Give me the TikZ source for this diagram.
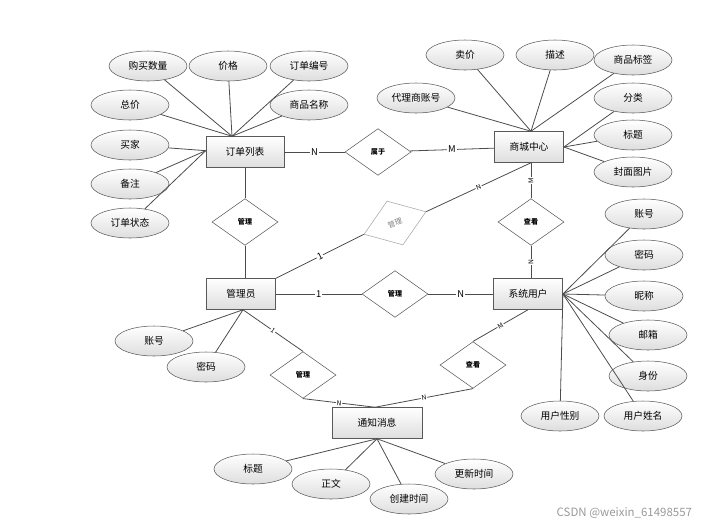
\documentclass[tikz,border=0pt]{standalone}
\usepackage{fontspec}
\setmainfont{Noto Sans CJK SC}
\usetikzlibrary{shapes.geometric}

\tikzset{
  entity/.style={draw=black!65, top color=white, bottom color=black!13,
    minimum width=52pt, minimum height=23.25pt, inner sep=1pt,
    font=\fontsize{7.3}{9}\selectfont},
  attr/.style={ellipse, draw=black!65, top color=white, bottom color=black!13,
    minimum width=58.5pt, minimum height=22.5pt, inner sep=0pt,
    font=\fontsize{7.3}{9}\selectfont},
  rel/.style={diamond, draw=black!65, fill=white,
    minimum width=49.5pt, minimum height=35pt, inner sep=0pt,
    font=\fontsize{5.3}{6}\selectfont\bfseries},
  card/.style={fill=white, inner sep=0.6pt, font=\fontsize{7}{8}\selectfont},
  smallcard/.style={card, font=\fontsize{5}{6}\selectfont},
  link/.style={draw=black!70, line width=0.6pt},
}

\begin{document}
\begin{tikzpicture}[x=0.75pt, y=-0.75pt]
  \useasboundingbox (0,0) rectangle (719,526);

  % entities
  \node[entity, minimum width=58.5pt] (order) at (245,152) {订单列表};
  \node[entity] (shop) at (529,147) {商城中心};
  \node[entity] (admin) at (241,294) {管理员};
  \node[entity] (user) at (528,294) {系统用户};
  \node[entity, minimum width=67.5pt] (notice) at (377,423) {通知消息};

  % relations
  \node[rel] (belong) at (378,152) {属于};
  \node[rel] (mgrorder) at (245,222) {管理};
  \node[rel, draw=black!35, text=black!50, rotate=20,
    font=\fontsize{5.5}{6}\selectfont] (mgrshop) at (395,223) {管理};
  \node[rel] (mgruser) at (395,294) {管理};
  \node[rel] (mgrnotice) at (303,375) {管理};
  \node[rel] (viewshop) at (531,222) {查看};
  \node[rel] (viewnotice) at (473,365) {查看};

  % attributes of the order list
  \node[attr] (buyqty) at (148,66) {购买数量};
  \node[attr] (price) at (228,66) {价格};
  \node[attr] (orderno) at (309,66) {订单编号};
  \node[attr] (total) at (130,105) {总价};
  \node[attr] (goodsname) at (309,105) {商品名称};
  \node[attr] (buyer) at (130,145) {买家};
  \node[attr] (remark) at (130,184) {备注};
  \node[attr] (orderstate) at (130,223) {订单状态};

  % attributes of the shop
  \node[attr] (sellprice) at (465,55) {卖价};
  \node[attr] (descr) at (555,55) {描述};
  \node[attr] (tag) at (633,60) {商品标签};
  \node[attr] (agentno) at (416,98) {代理商账号};
  \node[attr] (category) at (633,98) {分类};
  \node[attr] (title) at (633,135) {标题};
  \node[attr] (cover) at (633,172) {封面图片};

  % attributes of the user
  \node[attr] (uacct) at (644,214) {账号};
  \node[attr] (upwd) at (644,255) {密码};
  \node[attr] (unick) at (644,296) {昵称};
  \node[attr] (umail) at (648,335) {邮箱};
  \node[attr] (uident) at (648,376) {身份};
  \node[attr] (uname) at (643,416) {用户姓名};
  \node[attr] (usex) at (560,416) {用户性别};

  % attributes of the admin and the notice
  \node[attr] (aacct) at (154,341) {账号};
  \node[attr] (apwd) at (206,367) {密码};
  \node[attr] (ntitle) at (253,469) {标题};
  \node[attr] (nbody) at (331,484) {正文};
  \node[attr] (ncreate) at (409,499) {创建时间};
  \node[attr] (nupdate) at (474,474) {更新时间};

  % meeting points
  \coordinate (ordertop) at ([xshift=-9.75pt]order.north);
  \coordinate (orderleft) at ([yshift=1pt]order.west);
  \coordinate (shoptop) at ([xshift=1.5pt]shop.north);
  \coordinate (userright) at (user.east);
  \coordinate (adminbottom) at ([xshift=1.5pt]admin.south);
  \coordinate (noticetop) at ([xshift=-1.5pt]notice.north);
  \coordinate (noticebottom) at (notice.south);

  % attribute lines
  \foreach \a in {buyqty,price,orderno,total,goodsname}
    \draw[link] (\a) -- (ordertop);
  \foreach \a in {buyer,remark,orderstate}
    \draw[link] (\a) -- (orderleft);
  \foreach \a in {sellprice,descr,tag,agentno}
    \draw[link] (\a) -- (shoptop);
  \foreach \a in {category,title,cover}
    \draw[link] (\a) -- (shop.east);
  \foreach \a in {uacct,upwd,unick,umail,uident,uname,usex}
    \draw[link] (\a) -- (userright);
  \foreach \a in {aacct,apwd}
    \draw[link] (\a) -- (adminbottom);
  \foreach \a in {ntitle,nbody,ncreate,nupdate}
    \draw[link] (\a) -- (noticebottom);

  % relation lines
  \draw[link] (order) -- node[card] {N} (belong);
  \draw[link] (belong) -- node[card] {M} (shop);
  \draw[link] (order.south -| mgrorder) -- (mgrorder);
  \draw[link] (mgrorder) -- (mgrorder.south |- admin.north);
  \draw[link] (admin.north east) -- node[card, sloped] {1} (mgrshop.west);
  \draw[link] (mgrshop.east) -- node[smallcard, sloped] {N} (shoptop |- shop.south);
  \draw[link] (admin) -- node[card] {1} (mgruser);
  \draw[link] (mgruser) -- node[card] {N} (user);
  \draw[link] (viewshop |- shop.south) -- node[smallcard, rotate=90] {M} (viewshop);
  \draw[link] (viewshop) -- node[smallcard, rotate=90] {N} (viewshop |- user.north);
  \draw[link] (user.south) -- node[smallcard, sloped] {M} (viewnotice.north);
  \draw[link] (adminbottom) -- node[smallcard, sloped] {1} (mgrnotice.north);
  \draw[link] (mgrnotice.south) -- node[smallcard, sloped] {N} (noticetop);
  \draw[link] (viewnotice.south) -- node[smallcard, sloped] {N} (noticetop);

  % watermark
  \node[anchor=west, text=black!40, font=\fontsize{8.6}{10}\selectfont]
    (mark) at (552,513) {CSDN @weixin\_61498557};
\end{tikzpicture}
\end{document}
